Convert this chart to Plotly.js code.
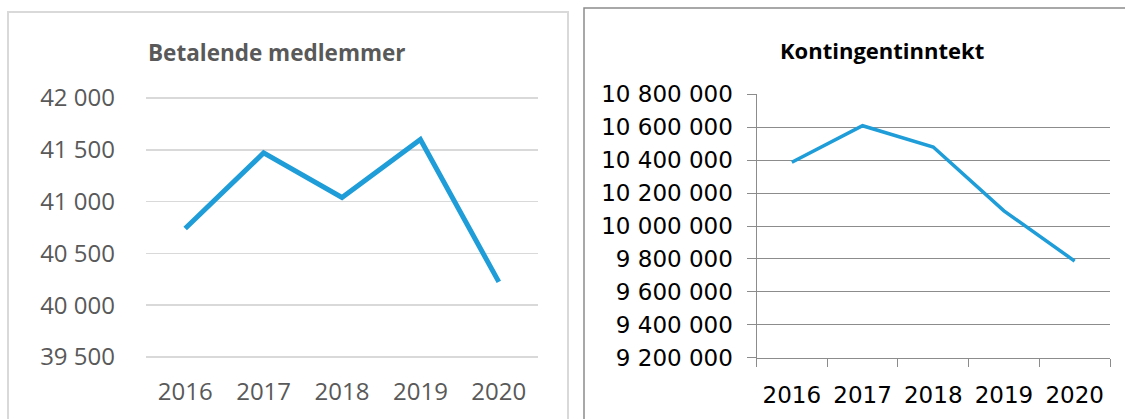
<!DOCTYPE html>
<html>
<head>
<meta charset="utf-8">
<script src="https://cdn.plot.ly/plotly-3.0.1.min.js"></script>
<style>html,body{margin:0;padding:0;background:#fff;}#chart{width:1125px;height:419px;}</style>
</head>
<body>
<div id="chart"></div>
<script>
const years = ['2016', '2017', '2018', '2019', '2020'];
const members = [40740, 41470, 41040, 41600, 40225];
const income = [10387000, 10609000, 10480000, 10092000, 9787000];
const titleLeft = 'Betalende medlemmer';
const titleRight = 'Kontingentinntekt';

const W = 1125, H = 419;
const px = v => v / W;
const py = v => 1 - v / H;

const blue = '#1e9dd8';

const traces = [
  {x: years, y: members, type: 'scatter', mode: 'lines', xaxis: 'x', yaxis: 'y',
   line: {color: blue, width: 5}, hoverinfo: 'skip'},
  {x: years, y: income, type: 'scatter', mode: 'lines', xaxis: 'x2', yaxis: 'y2',
   line: {color: blue, width: 3.5}, hoverinfo: 'skip'}
];

const leftFont = {family: 'Open Sans, sans-serif', size: 24, color: '#595959'};
const rightFont = {family: 'DejaVu Sans, sans-serif', size: 23, color: '#000000'};

const layout = {
  width: W, height: H,
  margin: {l: 0, r: 0, t: 0, b: 0},
  paper_bgcolor: '#ffffff', plot_bgcolor: 'rgba(0,0,0,0)',
  showlegend: false,
  separators: ', ',
  xaxis: {
    type: 'category', domain: [px(146), px(538)], range: [-0.5, 4.5],
    showgrid: false, showline: false, zeroline: false, ticks: '',
    tickfont: leftFont, ticklabelstandoff: 13, anchor: 'y', fixedrange: true
  },
  yaxis: {
    domain: [py(362.2), py(92.8)], range: [39450, 42050],
    tick0: 39500, dtick: 500, tickformat: ',d',
    showgrid: true, gridcolor: '#d9d9d9', gridwidth: 1.5,
    showline: false, zeroline: false, ticks: '',
    tickfont: leftFont, ticklabelstandoff: 30, anchor: 'x', fixedrange: true
  },
  xaxis2: {
    type: 'category', domain: [px(756.5), px(1110)], range: [-0.5, 4.5],
    showgrid: false, showline: true, linecolor: '#8c8c8c', linewidth: 1,
    zeroline: false, ticks: 'outside', tickson: 'boundaries', ticklen: 8,
    tickcolor: '#8c8c8c', tickwidth: 1,
    tickfont: rightFont, ticklabelstandoff: 17, anchor: 'y2', fixedrange: true
  },
  yaxis2: {
    domain: [py(357.7), py(94.3)], range: [9200000, 10800000],
    dtick: 200000, tick0: 9200000, tickformat: ',d',
    showgrid: true, gridcolor: '#8c8c8c', gridwidth: 1,
    showline: true, linecolor: '#8c8c8c', linewidth: 1, zeroline: false,
    ticks: 'outside', ticklen: 9, tickcolor: '#8c8c8c', tickwidth: 1,
    tickfont: rightFont, ticklabelstandoff: 9, anchor: 'x2', fixedrange: true
  },
  shapes: [
    {type: 'rect', xref: 'paper', yref: 'paper', x0: px(8), x1: px(568), y0: py(440), y1: py(12),
     line: {color: '#d9d9d9', width: 2}, fillcolor: 'rgba(0,0,0,0)', layer: 'below'},
    {type: 'rect', xref: 'paper', yref: 'paper', x0: px(584), x1: px(1140), y0: py(440), y1: py(8),
     line: {color: '#8c8c8c', width: 1.5}, fillcolor: 'rgba(0,0,0,0)', layer: 'below'}
  ],
  annotations: [
    {text: '<b>' + titleLeft + '</b>', xref: 'paper', yref: 'paper', x: px(276.5), y: py(53),
     xanchor: 'center', yanchor: 'middle', showarrow: false,
     font: {family: 'Open Sans, sans-serif', size: 22.5, color: '#595959'}},
    {text: '<b>' + titleRight + '</b>', xref: 'paper', yref: 'paper', x: px(881.5), y: py(50),
     xanchor: 'center', yanchor: 'middle', showarrow: false,
     font: {family: 'Open Sans, sans-serif', size: 22, color: '#000000'}}
  ]
};

Plotly.newPlot('chart', traces, layout, {staticPlot: true, displayModeBar: false});
</script>
</body>
</html>
